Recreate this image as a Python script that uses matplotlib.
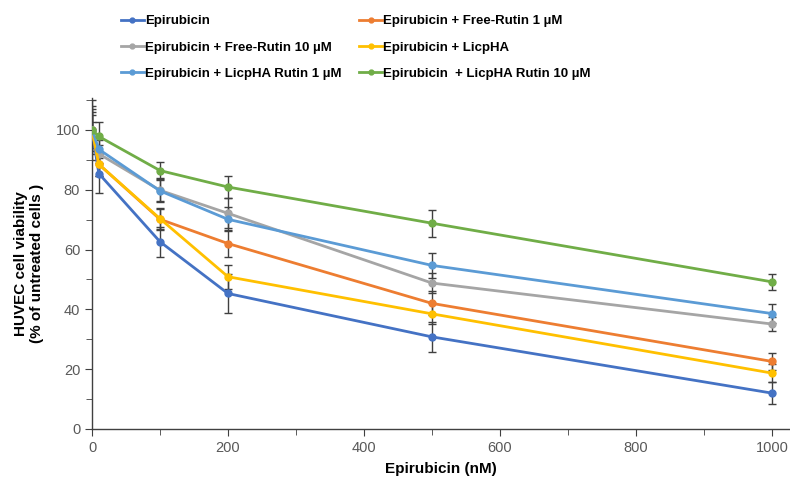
import numpy as np
import matplotlib.pyplot as plt

plt.rcParams['font.family'] = ['Liberation Sans', 'DejaVu Sans']

# epirubicin concentration (nM)
dose = [0, 10, 100, 200, 500, 1000]

labels = ['Epirubicin',
          'Epirubicin + Free-Rutin 1 \u00b5M',
          'Epirubicin + Free-Rutin 10 \u00b5M',
          'Epirubicin + LicpHA',
          'Epirubicin + LicpHA Rutin 1 \u00b5M',
          'Epirubicin  + LicpHA Rutin 10 \u00b5M']

epi = [100, 85.4, 62.6, 45.3, 30.8, 12.0]
free_rutin_1 = [100, 88.5, 70.1, 62.0, 42.0, 22.6]
free_rutin_10 = [100, 92.0, 79.8, 72.1, 48.8, 35.1]
licpha = [100, 88.5, 70.3, 50.9, 38.5, 18.7]
licpha_rutin_1 = [100, 93.5, 79.6, 70.1, 54.7, 38.6]
licpha_rutin_10 = [100, 97.8, 86.4, 80.9, 68.8, 49.2]

epi_err = [10, 6.5, 5.0, 6.5, 5.0, 3.6]
free_rutin_1_err = [7, 4.0, 3.5, 4.5, 4.0, 2.8]
free_rutin_10_err = [8, 3.0, 4.0, 5.0, 3.5, 2.4]
licpha_err = [5, 4.0, 3.5, 4.0, 3.5, 3.0]
licpha_rutin_1_err = [6, 3.0, 3.5, 4.0, 4.3, 3.2]
licpha_rutin_10_err = [2.5, 4.7, 2.8, 3.6, 4.5, 2.7]

series = [epi, free_rutin_1, free_rutin_10, licpha, licpha_rutin_1, licpha_rutin_10]
errors = [epi_err, free_rutin_1_err, free_rutin_10_err, licpha_err,
          licpha_rutin_1_err, licpha_rutin_10_err]
colors = ['#4472C4', '#ED7D31', '#A5A5A5', '#FFC000', '#5B9BD5', '#70AD47']

fig = plt.figure(figsize=(7.9, 4.79), dpi=100)
ax = fig.add_axes([0.1165, 0.1044, 0.882, 0.69])

handles = []
for vals, err, col, lab in zip(series, errors, colors, labels):
    ax.errorbar(dose, vals, yerr=err, fmt='none', ecolor='#404040',
                elinewidth=1, capsize=3, capthick=1, zorder=2)
    h, = ax.plot(dose, vals, color=col, lw=2, marker='o', ms=5, label=lab, zorder=3)
    handles.append(h)

ax.set_xlim(0, 1025)
ax.set_ylim(0, 110.5)
ax.set_xticks(np.arange(0, 1001, 200))
ax.set_xticks(np.arange(0, 1001, 100), minor=True)
ax.set_yticks(np.arange(0, 101, 20))
ax.set_yticks(np.arange(0, 111, 10), minor=True)

for s in ['top', 'right']:
    ax.spines[s].set_visible(False)
for s in ['left', 'bottom']:
    ax.spines[s].set_color('#404040')
    ax.spines[s].set_linewidth(1)

ax.tick_params(which='both', direction='out', color='#404040', labelcolor='#595959',
               labelsize=10.5)
ax.tick_params(which='major', length=5)
ax.tick_params(which='minor', length=4)

ax.set_xlabel('Epirubicin (nM)', fontsize=11, fontweight='bold', labelpad=5)
ax.set_ylabel('HUVEC cell viability\n(% of untreated cells )', fontsize=11,
              fontweight='bold', labelpad=8)

# legend filled row by row like the original
order = [0, 2, 4, 1, 3, 5]
fig.legend(handles=[handles[i] for i in order], loc='upper left',
           bbox_to_anchor=(0.138, 0.993), ncol=2, frameon=False,
           prop={'weight': 'bold', 'size': 9.5}, handlelength=1.75,
           handletextpad=0.1, columnspacing=1.3, labelspacing=1.05, markerscale=0.7)

fig.savefig('out.png', dpi=100)
